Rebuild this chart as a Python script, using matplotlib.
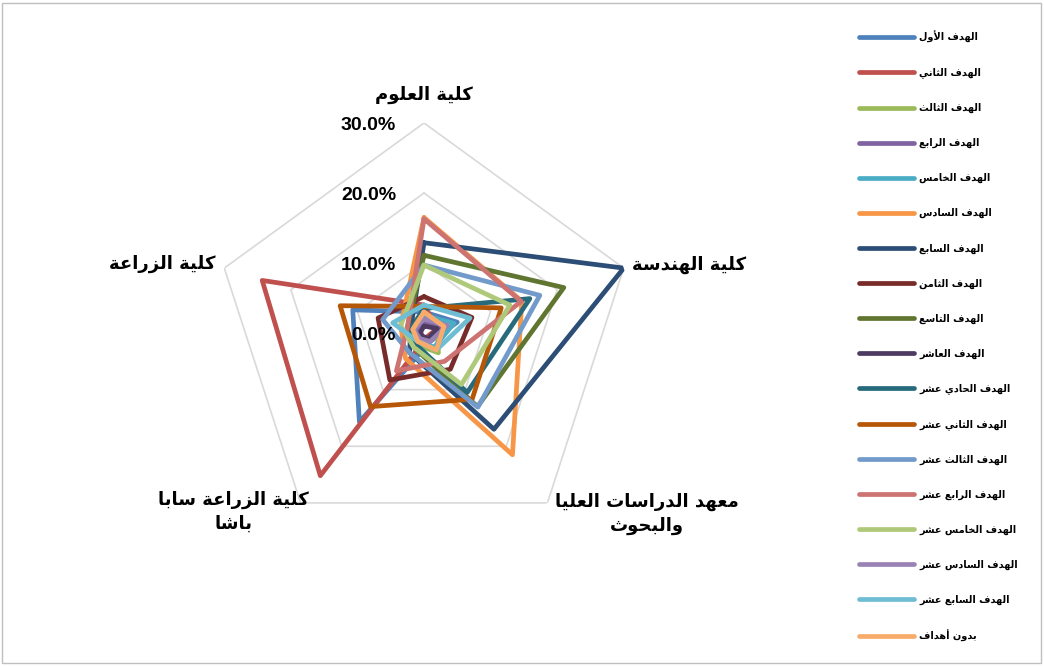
import numpy as np
import matplotlib
matplotlib.use("Agg")
import matplotlib.pyplot as plt
from matplotlib.patches import Rectangle

# colleges, clockwise from the top
colleges = ["كلية العلوم", "كلية الهندسة", "معهد الدراسات العليا\nوالبحوث",
            "كلية الزراعة سابا\nباشا", "كلية الزراعة"]

goals = ["الهدف الأول", "الهدف الثاني", "الهدف الثالث", "الهدف الرابع",
         "الهدف الخامس", "الهدف السادس", "الهدف السابع", "الهدف الثامن",
         "الهدف التاسع", "الهدف العاشر", "الهدف الحادي عشر", "الهدف الثاني عشر",
         "الهدف الثالث عشر", "الهدف الرابع عشر", "الهدف الخامس عشر",
         "الهدف السادس عشر", "الهدف السابع عشر", "بدون أهداف"]

# share of each goal per college (%)
g01 = [3.0, 5.0, 1.5, 15.7, 10.7]
g02 = [4.0, 2.0, 0.7, 25.2, 24.3]
g03 = [1.5, 2.0, 3.5, 2.0, 2.0]
g04 = [1.5, 2.5, 1.0, 1.0, 1.0]
g05 = [2.5, 4.5, 2.5, 1.5, 2.5]
g06 = [16.5, 14.7, 21.5, 4.5, 3.5]
g07 = [12.9, 30.0, 17.0, 3.5, 2.0]
g08 = [5.2, 7.2, 6.4, 8.3, 6.9]
g09 = [11.1, 21.0, 13.0, 2.5, 2.5]
g10 = [1.0, 2.0, 1.0, 0.5, 0.5]
g11 = [3.5, 15.9, 10.5, 2.0, 2.0]
g12 = [3.8, 11.6, 11.7, 13.0, 12.6]
g13 = [9.7, 17.4, 13.1, 3.5, 6.2]
g14 = [16.3, 14.6, 5.0, 6.7, 2.5]
g15 = [9.7, 12.9, 9.1, 2.5, 3.5]
g16 = [2.0, 3.5, 1.5, 1.0, 1.5]
g17 = [4.0, 6.9, 3.0, 1.5, 4.7]
g18 = [3.0, 3.0, 3.0, 1.5, 1.7]
series = [g01, g02, g03, g04, g05, g06, g07, g08, g09, g10, g11, g12,
          g13, g14, g15, g16, g17, g18]

grid_levels = [0, 10, 20, 30]

colors = ["#4F81BD", "#C0504D", "#9BBB59", "#8064A2", "#4BACC6", "#F79646",
          "#2C4D75", "#772C2A", "#5F7530", "#4D3B62", "#276A7C", "#B65708",
          "#729ACA", "#CD7371", "#AFC97A", "#9983B5", "#6FBDD3", "#F9AB6B"]

# --- minimal arabic shaping (matplotlib has no complex text layout) ---
FORMS = {'ء': (0xFE80, 1), 'آ': (0xFE81, 2), 'أ': (0xFE83, 2), 'ؤ': (0xFE85, 2),
         'إ': (0xFE87, 2), 'ئ': (0xFE89, 4), 'ا': (0xFE8D, 2), 'ب': (0xFE8F, 4),
         'ة': (0xFE93, 2), 'ت': (0xFE95, 4), 'ث': (0xFE99, 4), 'ج': (0xFE9D, 4),
         'ح': (0xFEA1, 4), 'خ': (0xFEA5, 4), 'د': (0xFEA9, 2), 'ذ': (0xFEAB, 2),
         'ر': (0xFEAD, 2), 'ز': (0xFEAF, 2), 'س': (0xFEB1, 4), 'ش': (0xFEB5, 4),
         'ص': (0xFEB9, 4), 'ض': (0xFEBD, 4), 'ط': (0xFEC1, 4), 'ظ': (0xFEC5, 4),
         'ع': (0xFEC9, 4), 'غ': (0xFECD, 4), 'ف': (0xFED1, 4), 'ق': (0xFED5, 4),
         'ك': (0xFED9, 4), 'ل': (0xFEDD, 4), 'م': (0xFEE1, 4), 'ن': (0xFEE5, 4),
         'ه': (0xFEE9, 4), 'و': (0xFEED, 2), 'ى': (0xFEEF, 2), 'ي': (0xFEF1, 4)}
LAM_ALEF = {'آ': 0xFEF5, 'أ': 0xFEF7, 'إ': 0xFEF9, 'ا': 0xFEFB}


def shape_line(line):
    out = []
    link = False
    i = 0
    n = len(line)
    while i < n:
        c = line[i]
        if c not in FORMS:
            out.append(c)
            link = False
            i += 1
            continue
        if c == 'ل' and i + 1 < n and line[i + 1] in LAM_ALEF:
            base = LAM_ALEF[line[i + 1]]
            out.append(chr(base + 1 if link else base))
            link = False
            i += 2
            continue
        base, nf = FORMS[c]
        nxt = line[i + 1] if i + 1 < n else None
        joins_next = nf == 4 and nxt in FORMS and FORMS[nxt][1] > 1
        if link and joins_next:
            g = base + 3
        elif link and nf > 1:
            g = base + 1
        elif joins_next:
            g = base + 2
        else:
            g = base
        out.append(chr(g))
        link = joins_next
        i += 1
    return "".join(out)[::-1]


def ar(text):
    return "\n".join(shape_line(l) for l in text.split("\n"))


fig = plt.figure(figsize=(10.44, 6.66), dpi=100)
ax = fig.add_axes([214 / 1044, 123 / 666, 420 / 1044, 420 / 666], polar=True)
ax.set_theta_offset(np.pi / 2)
ax.set_theta_direction(-1)
ax.set_ylim(0, 30)
ax.grid(False)
ax.spines["polar"].set_visible(False)
ax.set_xticks([])
ax.set_yticks([])
ax.patch.set_alpha(0)

theta = np.linspace(0, 2 * np.pi, len(colleges), endpoint=False)
theta_c = np.append(theta, theta[0])

# pentagon gridlines
for lv in grid_levels[1:]:
    ax.plot(theta_c, [lv] * len(theta_c), color="#D9D9D9", lw=1.2, zorder=1)

handles = []
for name, vals, col in zip(goals, series, colors):
    v = np.append(vals, vals[0])
    h, = ax.plot(theta_c, v, color=col, lw=3.4, solid_joinstyle="round",
                 solid_capstyle="round", label=ar(name), zorder=2)
    handles.append(h)

# radial value labels along the top axis
for lv in grid_levels:
    ax.annotate(f"{lv:.1f}%", xy=(0, lv), xytext=(-28, -2),
                textcoords="offset pixels", ha="right", va="center",
                fontsize=14, fontweight="bold", family="Liberation Sans",
                zorder=5)

# college labels
offsets = [(0, 28), (8, 3), (8, -11), (8, -9), (-9, 4)]
aligns = ["center", "left", "left", "right", "right"]
for t, name, off, al in zip(theta, colleges, offsets, aligns):
    ax.annotate(ar(name), xy=(t, 30), xytext=off, textcoords="offset pixels",
                ha=al, va="center", multialignment="center", linespacing=1.45,
                fontsize=13, fontweight="bold", family="DejaVu Sans",
                annotation_clip=False)

fig.legend(handles=handles, loc="upper left", bbox_to_anchor=(850 / 1044, 1 - 22 / 666),
           frameon=False, handlelength=5.7, handletextpad=0.5,
           labelspacing=2.55, prop={"family": "DejaVu Sans", "weight": "bold", "size": 7})

fig.add_artist(Rectangle((0.002, 0.004), 0.995, 0.992, transform=fig.transFigure,
                         fill=False, edgecolor="#BFBFBF", lw=1))

fig.savefig("out.png", dpi=100, facecolor="white")
